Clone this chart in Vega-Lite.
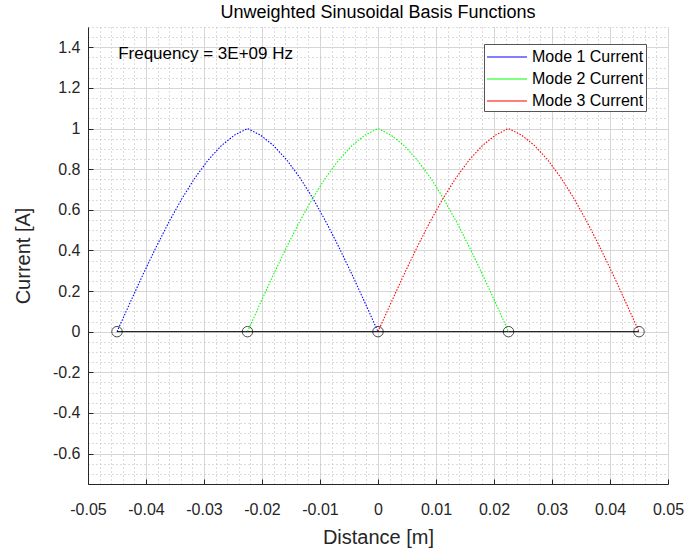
{
  "$schema": "https://vega.github.io/schema/vega-lite/v6.json",
  "width": 580,
  "height": 457,
  "autosize": "none",
  "padding": {"left": 88, "top": 27, "right": 17, "bottom": 67},
  "background": "white",
  "config": {
    "font": "Liberation Sans",
    "view": {"stroke": null},
    "axis": {"labelFont": "Liberation Sans", "titleFont": "Liberation Sans", "titleFontWeight": "normal"}
  },
  "title": {"text": "Unweighted Sinusoidal Basis Functions", "fontSize": 18, "fontWeight": "normal", "font": "Liberation Sans", "color": "#000000", "offset": 5},
  "datasets": {
    "curves": [
      {"x": -0.045, "y": 0, "mode": "Mode 1 Current"},
      {"x": -0.04275, "y": 0.1427, "mode": "Mode 1 Current"},
      {"x": -0.0405, "y": 0.2825, "mode": "Mode 1 Current"},
      {"x": -0.03825, "y": 0.4166, "mode": "Mode 1 Current"},
      {"x": -0.036, "y": 0.5425, "mode": "Mode 1 Current"},
      {"x": -0.03375, "y": 0.6576, "mode": "Mode 1 Current"},
      {"x": -0.0315, "y": 0.7595, "mode": "Mode 1 Current"},
      {"x": -0.02925, "y": 0.8462, "mode": "Mode 1 Current"},
      {"x": -0.027, "y": 0.9161, "mode": "Mode 1 Current"},
      {"x": -0.02475, "y": 0.9677, "mode": "Mode 1 Current"},
      {"x": -0.0225, "y": 1, "mode": "Mode 1 Current"},
      {"x": -0.02025, "y": 0.9677, "mode": "Mode 1 Current"},
      {"x": -0.018, "y": 0.9161, "mode": "Mode 1 Current"},
      {"x": -0.01575, "y": 0.8462, "mode": "Mode 1 Current"},
      {"x": -0.0135, "y": 0.7595, "mode": "Mode 1 Current"},
      {"x": -0.01125, "y": 0.6576, "mode": "Mode 1 Current"},
      {"x": -0.009, "y": 0.5425, "mode": "Mode 1 Current"},
      {"x": -0.00675, "y": 0.4166, "mode": "Mode 1 Current"},
      {"x": -0.0045, "y": 0.2825, "mode": "Mode 1 Current"},
      {"x": -0.00225, "y": 0.1427, "mode": "Mode 1 Current"},
      {"x": 0, "y": 0, "mode": "Mode 1 Current"},
      {"x": -0.0225, "y": 0, "mode": "Mode 2 Current"},
      {"x": -0.02025, "y": 0.1427, "mode": "Mode 2 Current"},
      {"x": -0.018, "y": 0.2825, "mode": "Mode 2 Current"},
      {"x": -0.01575, "y": 0.4166, "mode": "Mode 2 Current"},
      {"x": -0.0135, "y": 0.5425, "mode": "Mode 2 Current"},
      {"x": -0.01125, "y": 0.6576, "mode": "Mode 2 Current"},
      {"x": -0.009, "y": 0.7595, "mode": "Mode 2 Current"},
      {"x": -0.00675, "y": 0.8462, "mode": "Mode 2 Current"},
      {"x": -0.0045, "y": 0.9161, "mode": "Mode 2 Current"},
      {"x": -0.00225, "y": 0.9677, "mode": "Mode 2 Current"},
      {"x": 0, "y": 1, "mode": "Mode 2 Current"},
      {"x": 0.00225, "y": 0.9677, "mode": "Mode 2 Current"},
      {"x": 0.0045, "y": 0.9161, "mode": "Mode 2 Current"},
      {"x": 0.00675, "y": 0.8462, "mode": "Mode 2 Current"},
      {"x": 0.009, "y": 0.7595, "mode": "Mode 2 Current"},
      {"x": 0.01125, "y": 0.6576, "mode": "Mode 2 Current"},
      {"x": 0.0135, "y": 0.5425, "mode": "Mode 2 Current"},
      {"x": 0.01575, "y": 0.4166, "mode": "Mode 2 Current"},
      {"x": 0.018, "y": 0.2825, "mode": "Mode 2 Current"},
      {"x": 0.02025, "y": 0.1427, "mode": "Mode 2 Current"},
      {"x": 0.0225, "y": 0, "mode": "Mode 2 Current"},
      {"x": 0, "y": 0, "mode": "Mode 3 Current"},
      {"x": 0.00225, "y": 0.1427, "mode": "Mode 3 Current"},
      {"x": 0.0045, "y": 0.2825, "mode": "Mode 3 Current"},
      {"x": 0.00675, "y": 0.4166, "mode": "Mode 3 Current"},
      {"x": 0.009, "y": 0.5425, "mode": "Mode 3 Current"},
      {"x": 0.01125, "y": 0.6576, "mode": "Mode 3 Current"},
      {"x": 0.0135, "y": 0.7595, "mode": "Mode 3 Current"},
      {"x": 0.01575, "y": 0.8462, "mode": "Mode 3 Current"},
      {"x": 0.018, "y": 0.9161, "mode": "Mode 3 Current"},
      {"x": 0.02025, "y": 0.9677, "mode": "Mode 3 Current"},
      {"x": 0.0225, "y": 1, "mode": "Mode 3 Current"},
      {"x": 0.02475, "y": 0.9677, "mode": "Mode 3 Current"},
      {"x": 0.027, "y": 0.9161, "mode": "Mode 3 Current"},
      {"x": 0.02925, "y": 0.8462, "mode": "Mode 3 Current"},
      {"x": 0.0315, "y": 0.7595, "mode": "Mode 3 Current"},
      {"x": 0.03375, "y": 0.6576, "mode": "Mode 3 Current"},
      {"x": 0.036, "y": 0.5425, "mode": "Mode 3 Current"},
      {"x": 0.03825, "y": 0.4166, "mode": "Mode 3 Current"},
      {"x": 0.0405, "y": 0.2825, "mode": "Mode 3 Current"},
      {"x": 0.04275, "y": 0.1427, "mode": "Mode 3 Current"},
      {"x": 0.045, "y": 0, "mode": "Mode 3 Current"}
    ],
    "nodes": [
      {"x": -0.045, "y": 0},
      {"x": -0.0225, "y": 0},
      {"x": 0, "y": 0},
      {"x": 0.0225, "y": 0},
      {"x": 0.045, "y": 0}
    ],
    "note": [
      {"x": -0.0448, "y": 1.368, "label": "Frequency = 3E+09 Hz"}
    ]
  },
  "layer": [
    {
      "data": {"name": "nodes"},
      "mark": {"type": "point", "opacity": 0},
      "encoding": {
        "x": {"field": "x", "type": "quantitative",
          "scale": {"domain": [-0.05, 0.05], "nice": false, "zero": false},
          "axis": {"orient": "bottom", "values": [-0.05,-0.048,-0.046,-0.044,-0.042,-0.04,-0.038,-0.036,-0.034,-0.032,-0.03,-0.028,-0.026,-0.024,-0.022,-0.02,-0.018,-0.016,-0.014,-0.012,-0.01,-0.008,-0.006,-0.004,-0.002,0,0.002,0.004,0.006,0.008,0.01,0.012,0.014,0.016,0.018,0.02,0.022,0.024,0.026,0.028,0.03,0.032,0.034,0.036,0.038,0.04,0.042,0.044,0.046,0.048,0.05],
            "grid": true, "gridColor": "#b8b8b8", "gridDash": [1, 3], "gridWidth": 1,
            "labels": false, "ticks": false, "domain": false, "title": null}},
        "y": {"field": "y", "type": "quantitative",
          "scale": {"domain": [-0.75, 1.5], "nice": false, "zero": false},
          "axis": {"orient": "left", "values": [-0.75,-0.7,-0.65,-0.6,-0.55,-0.5,-0.45,-0.4,-0.35,-0.3,-0.25,-0.2,-0.15,-0.1,-0.05,0,0.05,0.1,0.15,0.2,0.25,0.3,0.35,0.4,0.45,0.5,0.55,0.6,0.65,0.7,0.75,0.8,0.85,0.9,0.95,1,1.05,1.1,1.15,1.2,1.25,1.3,1.35,1.4,1.45,1.5],
            "grid": true, "gridColor": "#b8b8b8", "gridDash": [1, 3], "gridWidth": 1,
            "labels": false, "ticks": false, "domain": false, "title": null}}
      }
    },
    {
      "data": {"name": "curves"},
      "mark": {"type": "line", "strokeWidth": 1.1, "strokeDash": [1.5, 1.5]},
      "encoding": {
        "x": {"field": "x", "type": "quantitative",
          "axis": {"orient": "bottom", "values": [-0.05,-0.04,-0.03,-0.02,-0.01,0,0.01,0.02,0.03,0.04,0.05],
            "labelExpr": "replace(format(datum.value, '~g'), '\u2212', '-')",
            "labelFlush": false,
            "grid": true, "gridColor": "#d6d6d6", "gridWidth": 1,
            "domain": true, "domainColor": "#262626", "domainWidth": 1,
            "ticks": true, "tickColor": "#262626", "tickSize": -5, "tickWidth": 1,
            "labelFontSize": 16, "labelColor": "#262626", "labelPadding": 22,
            "title": "Distance [m]", "titleFontSize": 20, "titleColor": "#262626", "titlePadding": 10}},
        "y": {"field": "y", "type": "quantitative",
          "axis": {"orient": "left", "values": [-0.6,-0.4,-0.2,0,0.2,0.4,0.6,0.8,1,1.2,1.4],
            "labelExpr": "replace(format(datum.value, '~g'), '\u2212', '-')",
            "labelFlush": false,
            "grid": true, "gridColor": "#d6d6d6", "gridWidth": 1,
            "domain": true, "domainColor": "#262626", "domainWidth": 1,
            "ticks": true, "tickColor": "#262626", "tickSize": -5, "tickWidth": 1,
            "labelFontSize": 16, "labelColor": "#262626", "labelPadding": 13,
            "title": "Current [A]", "titleFontSize": 20, "titleColor": "#262626", "titlePadding": 19}},
        "color": {"field": "mode", "type": "nominal",
          "scale": {"domain": ["Mode 1 Current", "Mode 2 Current", "Mode 3 Current"], "range": ["#0000ff", "#00ff00", "#ff0000"]},
          "legend": {"title": null, "orient": "none", "legendX": 396, "legendY": 17,
            "symbolType": "M-2,0H2", "symbolSize": 400, "symbolStrokeWidth": 1.1, "symbolOffset": 10,
            "labelFontSize": 16, "labelFont": "Liberation Sans", "labelColor": "#000000",
            "strokeColor": "#555555", "fillColor": "#ffffff", "padding": 2, "rowPadding": 3, "labelOffset": 14,
            "encode": {"symbols": {"update": {"strokeDash": {"value": []}, "strokeWidth": {"value": 1.1}, "fill": {"value": "transparent"}}}}}}
      }
    },
    {
      "data": {"name": "nodes"},
      "mark": {"type": "line", "color": "#000000", "strokeWidth": 1},
      "encoding": {
        "x": {"field": "x", "type": "quantitative", "axis": null},
        "y": {"field": "y", "type": "quantitative", "axis": null}
      }
    },
    {
      "data": {"name": "nodes"},
      "mark": {"type": "point", "shape": "circle", "filled": false, "color": "#000000", "size": 110, "strokeWidth": 1},
      "encoding": {
        "x": {"field": "x", "type": "quantitative", "axis": null},
        "y": {"field": "y", "type": "quantitative", "axis": null}
      }
    },
    {
      "data": {"name": "note"},
      "mark": {"type": "text", "align": "left", "baseline": "middle", "fontSize": 17, "font": "Liberation Sans", "color": "#000000"},
      "encoding": {
        "x": {"field": "x", "type": "quantitative", "axis": null},
        "y": {"field": "y", "type": "quantitative", "axis": null},
        "text": {"field": "label"}
      }
    }
  ],
  "resolve": {"axis": {"x": "independent", "y": "independent"}}
}
